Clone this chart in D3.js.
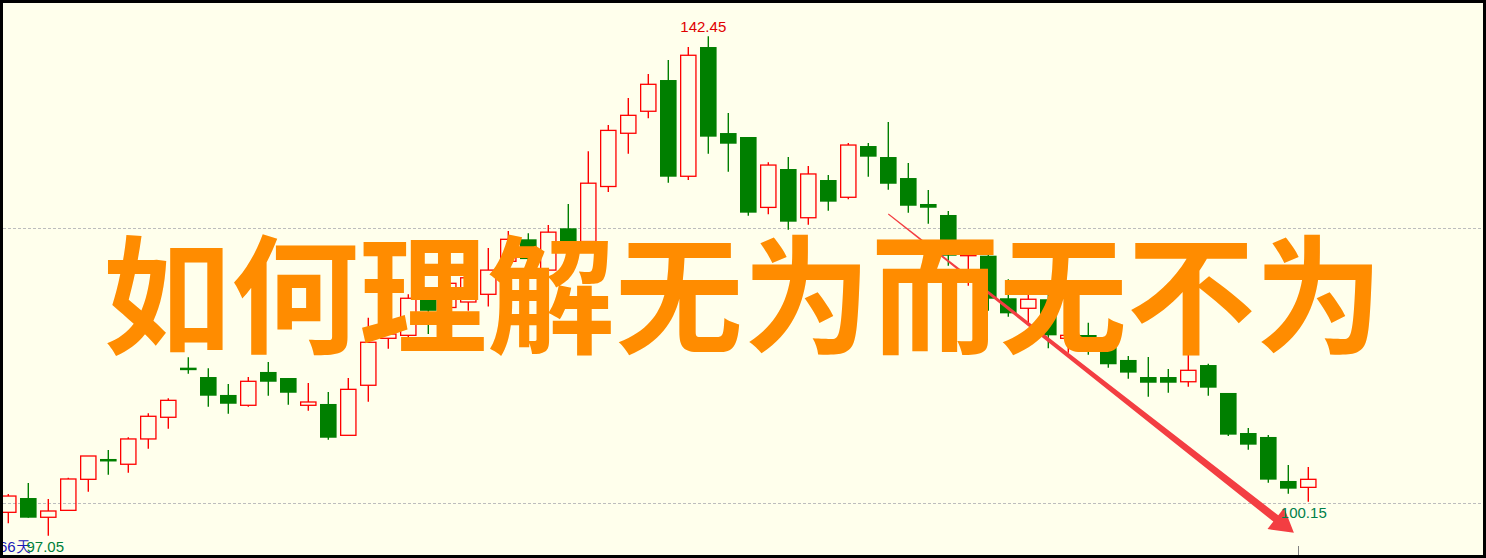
<!DOCTYPE html>
<html>
<head>
<meta charset="utf-8">
<script src="https://cdn.jsdelivr.net/npm/d3@7"></script>
<style>
html,body{margin:0;padding:0;background:#ffffec;}
svg{display:block;}
</style>
</head>
<body>
<svg id="chart" width="1486" height="558"></svg>
<script>
// ---- data (one entry per trading day, 66 days) ----
const opens  = [99.18,100.48,98.73,99.36,102.18,104.03,103.55,105.85,107.82,112.33,
                111.48,109.85,108.91,111.94,111.39,108.91,109.03,106.18,110.73,115.00,
                115.27,119.00,117.80,118.30,119.00,122.00,124.00,121.20,125.00,123.80,
                128.80,133.64,135.64,138.48,129.73,141.48,133.66,133.30,126.90,130.39,
                125.96,129.39,127.82,132.48,131.48,129.57,127.21,126.21,122.51,122.51,
                118.64,117.73,118.55,115.00,115.30,114.20,113.03,111.48,111.48,111.05,
                112.57,110.03,106.39,106.03,102.03,101.45];
const highs  = [100.85,101.85,100.39,102.33,104.30,104.85,106.00,108.18,109.55,113.27,
                112.27,110.85,111.48,112.85,111.39,110.94,110.12,111.39,116.87,115.80,
                119.00,119.50,120.60,121.30,123.20,124.75,124.55,125.30,127.20,132.00,
                134.40,136.85,139.03,140.30,141.48,142.45,135.48,133.30,131.00,131.48,
                130.66,129.85,132.75,132.75,134.66,130.94,128.48,126.57,123.50,122.90,
                120.36,119.09,119.20,115.57,116.42,114.80,113.39,113.30,112.21,113.75,
                112.69,110.03,106.85,106.21,103.48,103.30];
const lows   = [98.18,98.69,97.05,99.36,101.05,102.60,102.78,104.96,106.78,111.78,
                108.78,108.15,108.78,109.78,108.96,108.42,105.78,106.18,109.24,114.05,
                114.90,115.40,117.20,117.50,117.90,121.50,121.80,120.90,123.00,123.00,
                128.30,131.78,135.00,129.15,129.39,131.78,130.15,126.15,126.27,124.87,
                125.33,126.60,127.64,129.69,128.51,126.42,125.42,121.60,119.78,117.50,
                116.96,116.36,114.09,113.69,113.50,112.33,111.33,109.69,110.05,110.60,
                109.78,106.12,104.87,101.87,100.87,100.15];
const closes = [100.66,98.69,99.30,102.21,104.30,103.82,105.85,107.91,109.36,112.18,
                109.78,109.05,111.09,111.05,110.05,109.21,105.96,110.36,114.64,115.39,
                118.64,117.50,120.00,120.50,121.20,124.00,122.20,124.65,123.50,129.10,
                133.90,135.27,138.09,129.69,140.73,133.33,132.69,126.42,130.75,125.60,
                129.94,127.42,132.57,131.51,129.05,127.05,126.87,122.51,122.94,118.60,
                117.27,118.55,115.27,115.27,114.90,112.64,111.88,110.96,110.96,112.09,
                110.51,106.24,105.33,102.15,101.33,102.18];
const gridPrices = [100, 125];
const periodLabel = "66天";
const highLabel = "142.45";
const lowLabel = "100.15";
const startLowLabel = "97.05";
const title = "如何理解无为而无不为";
// arrow annotation in data space: [dayIndex, price]
const arrowFrom = [44.0, 126.3];
const arrowTo = [64.28, 97.33];

// ---- layout ----
const W = 1486, H = 558;
const svg = d3.select("#chart");
const n = opens.length;
const x = d3.scaleLinear().domain([0, n - 1]).range([8.3, 1308.3]);
const y = d3.scaleLinear().domain([100, 125]).range([503.3, 228.3]);
const half = 8.3;

const RED = "#ff0000", GREEN = "#007f00";

svg.append("rect").attr("x",0).attr("y",0).attr("width",W).attr("height",H).attr("fill","#ffffec");

// grid lines
svg.append("g").selectAll("line").data(gridPrices).join("line")
  .attr("x1", 3).attr("x2", W - 3)
  .attr("y1", d => Math.round(y(d)) + 0.5).attr("y2", d => Math.round(y(d)) + 0.5)
  .attr("stroke", "#bdbdbd").attr("stroke-width", 1).attr("stroke-dasharray", "3,2");

const candles = d3.range(n).map(i => ({i, o: opens[i], h: highs[i], l: lows[i], c: closes[i], up: closes[i] >= opens[i]}));

const g = svg.append("g");
// wicks
candles.forEach(d => {
  const cx = x(d.i);
  if (d.up) {
    const top = y(d.c), bot = y(d.o);
    g.append("line").attr("x1",cx).attr("x2",cx).attr("y1",y(d.h)).attr("y2",top)
      .attr("stroke",RED).attr("stroke-width",1.4);
    g.append("line").attr("x1",cx).attr("x2",cx).attr("y1",bot).attr("y2",y(d.l))
      .attr("stroke",RED).attr("stroke-width",1.4);
    g.append("rect").attr("x",cx-half+0.65).attr("y",top).attr("width",2*half-1.3)
      .attr("height",Math.max(1,bot-top)).attr("fill","none").attr("stroke",RED).attr("stroke-width",1.3);
  } else {
    g.append("line").attr("x1",cx).attr("x2",cx).attr("y1",y(d.h)).attr("y2",y(d.l))
      .attr("stroke",GREEN).attr("stroke-width",1.4);
    const top = y(d.o), bot = y(d.c);
    g.append("rect").attr("x",cx-half).attr("y",top).attr("width",2*half)
      .attr("height",Math.max(2.5,bot-top)).attr("fill",GREEN);
  }
});

// arrow (tapered wedge + head), drawn under the title
(function(){
  const sx = x(arrowFrom[0]), sy = y(arrowFrom[1]);
  const tx = x(arrowTo[0]), ty = y(arrowTo[1]);
  const dx = tx - sx, dy = ty - sy, L = Math.hypot(dx, dy);
  const ux = dx / L, uy = dy / L, px = -uy, py = ux;
  const headLen = 23, headHalf = 13.5, shaftEnd = 4, shaftStart = 0.5;
  const bx = tx - ux * headLen, by = ty - uy * headLen;
  const pts = [
    [sx + px*shaftStart, sy + py*shaftStart],
    [bx + px*shaftEnd, by + py*shaftEnd],
    [bx + px*headHalf, by + py*headHalf],
    [tx, ty],
    [bx - px*headHalf, by - py*headHalf],
    [bx - px*shaftEnd, by - py*shaftEnd],
    [sx - px*shaftStart, sy - py*shaftStart]
  ];
  svg.append("path").attr("d", d3.line()(pts) + "Z").attr("fill", "#f33e42");
})();

// title
svg.append("text").attr("x", 103).attr("y", 344)
  .attr("font-family", "'Noto Sans CJK SC'").attr("font-weight", 700)
  .attr("font-size", 128).attr("fill", "#ff8c00").text(title);

// labels
const lblFont = "'Liberation Sans', Arial, sans-serif";
const hiIdx = highs.indexOf(d3.max(highs));
svg.append("text").attr("x", x(hiIdx) - 5).attr("y", y(d3.max(highs)) - 4)
  .attr("text-anchor","middle").attr("font-family",lblFont).attr("font-size",15)
  .attr("fill","#e00000").text(highLabel);
svg.append("text").attr("x", x(n-1) - 4.5).attr("y", y(d3.min(lows.slice(40))) + 16.6)
  .attr("text-anchor","middle").attr("font-family",lblFont).attr("font-size",15)
  .attr("fill","#00804a").text(lowLabel);
svg.append("text").attr("x", -1).attr("y", 552.3)
  .attr("font-family",lblFont).attr("font-size",15).attr("fill","#1a1ab8").text(periodLabel);
svg.append("text").attr("x", 26.5).attr("y", 552.3)
  .attr("font-family",lblFont).attr("font-size",15).attr("fill","#00803a").text(startLowLabel);

// small cursor tick at bottom
svg.append("line").attr("x1", Math.round(x(64.5))+0.5).attr("x2", Math.round(x(64.5))+0.5)
  .attr("y1", 546).attr("y2", 555).attr("stroke","#808080").attr("stroke-width",1);

// frame
svg.append("rect").attr("x",1.5).attr("y",1.5).attr("width",W-3).attr("height",H-3)
  .attr("fill","none").attr("stroke","#000").attr("stroke-width",3);
</script>
</body>
</html>
